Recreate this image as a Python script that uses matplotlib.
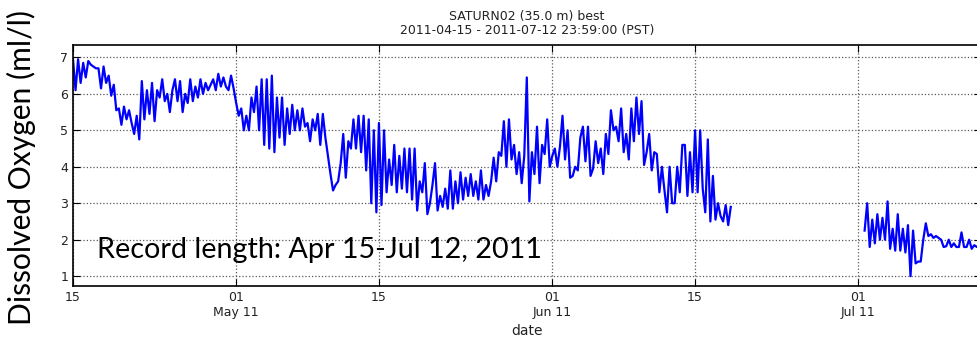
import numpy as np
import pandas as pd
import matplotlib
matplotlib.use("Agg")
import matplotlib.pyplot as plt
import matplotlib.dates as mdates
from matplotlib.ticker import FuncFormatter

# SATURN02 dissolved oxygen, 6-hourly readings
seg1_start = "2011-04-15 00:00"
seg1_vals = [
    6.95, 6.10, 6.95, 6.30,   # Apr 15
    6.85, 6.45, 6.90, 6.80,
    6.75, 6.70, 6.70, 6.15,
    6.75, 6.30, 6.50, 5.95,
    6.25, 5.55, 5.60, 5.15,
    5.65, 5.30, 5.55, 5.20,   # Apr 20
    4.90, 5.40, 4.75, 6.35,
    5.30, 6.10, 5.45, 6.30,
    5.25, 6.10, 5.90, 6.40,
    5.80, 6.00, 5.50, 6.10,
    6.40, 5.80, 6.35, 5.50,   # Apr 25
    6.00, 5.75, 6.40, 5.80,
    6.20, 5.90, 6.40, 6.00,
    6.30, 6.10, 6.25, 6.40,
    6.10, 6.55, 6.20, 6.45,
    6.20, 6.10, 6.50, 6.15,   # Apr 30
    5.75, 5.40, 5.60, 5.00,   # May 01
    5.40, 5.00, 5.90, 5.50,
    6.20, 5.00, 6.40, 4.60,
    6.40, 4.50, 6.50, 4.40,
    5.90, 4.80, 5.90, 4.60,   # May 05
    5.60, 4.90, 5.70, 5.00,
    5.55, 5.00, 5.60, 5.10,
    5.20, 4.70, 5.30, 5.00,
    5.45, 4.60, 5.45, 4.80,
    4.30, 3.80, 3.35, 3.50,   # May 10
    3.60, 4.10, 4.90, 3.70,
    4.70, 4.50, 5.30, 4.50,
    5.40, 4.40, 5.40, 3.90,
    5.30, 3.00, 5.00, 2.75,
    5.20, 2.95, 5.00, 3.30,   # May 15
    4.20, 3.50, 4.60, 3.30,
    4.30, 3.40, 4.50, 3.30,
    4.50, 3.10, 4.50, 2.80,
    3.60, 3.30, 4.10, 2.70,
    3.00, 3.50, 4.10, 2.80,   # May 20
    3.20, 2.90, 3.40, 2.85,
    3.90, 2.85, 3.60, 3.00,
    3.85, 3.10, 3.70, 3.20,
    3.80, 3.20, 3.60, 3.10,
    3.90, 3.10, 3.50, 3.20,   # May 25
    3.60, 4.25, 3.60, 4.40,
    4.30, 5.25, 4.00, 5.30,
    4.20, 4.60, 3.80, 4.40,
    3.55, 4.30, 6.45, 3.05,
    4.40, 3.80, 5.10, 3.55,   # May 30
    4.60, 4.35, 5.30, 4.00,
    4.30, 4.50, 4.00, 4.55,   # Jun 01
    5.40, 4.20, 5.00, 3.70,
    3.75, 4.00, 3.90, 4.80,
    5.10, 4.15, 5.10, 3.75,
    3.95, 4.70, 4.10, 4.50,   # Jun 05
    3.80, 4.90, 4.35, 5.55,
    5.00, 5.10, 4.70, 5.60,
    4.40, 4.90, 4.20, 5.60,
    4.70, 5.90, 4.90, 5.80,
    4.05, 4.40, 4.90, 3.90,   # Jun 10
    4.40, 4.35, 3.30, 4.00,
    3.35, 2.75, 4.00, 3.00,
    3.00, 4.00, 3.30, 4.60,
    4.60, 3.20, 4.40, 3.30,
    5.00, 3.30, 5.00, 3.40,   # Jun 15
    2.75, 4.75, 2.50, 3.75,
    2.55, 3.00, 2.65, 2.50,
    2.95, 2.40, 2.90,
]

seg2_start = "2011-07-01 15:00"
seg2_vals = [
    2.25, 3.00, 1.80, 2.55, 1.90, 2.70, 2.00, 2.60,
    2.00, 3.05, 1.75, 2.30, 1.70, 2.70, 1.70, 2.30,
    1.65, 2.40, 1.00, 2.25, 1.35, 1.40, 1.40, 2.00,
    2.45, 2.10, 2.15, 2.05, 2.10, 2.05, 2.00, 1.80,
    1.82, 2.00, 1.80, 1.90, 1.80, 1.80, 2.20, 1.80,
    1.80, 2.00, 1.75, 1.85, 1.80, 1.85,
]

t1 = pd.date_range(seg1_start, periods=len(seg1_vals), freq="6h")
t2 = pd.date_range(seg2_start, periods=len(seg2_vals), freq="6h")

fig = plt.figure(figsize=(9.77, 3.44), dpi=100)
ax = fig.add_axes([0.0747, 0.1686, 0.929, 0.7006])

ax.plot(t1, seg1_vals, color="#0000ff", linewidth=1.6)
ax.plot(t2, seg2_vals, color="#0000ff", linewidth=1.6)

ax.set_xlim(pd.Timestamp("2011-04-15"), pd.Timestamp("2011-07-12 23:59"))
ax.set_ylim(0.73, 7.34)
ax.set_yticks([1, 2, 3, 4, 5, 6, 7])


def day_fmt(x, pos):
    d = mdates.num2date(x)
    if d.day == 1:
        return d.strftime("%d\n%b %y")
    return d.strftime("%d")


ax.xaxis.set_major_locator(mdates.DayLocator(bymonthday=[1, 15]))
ax.xaxis.set_major_formatter(FuncFormatter(day_fmt))
ax.tick_params(direction="in", top=True, right=True, length=5, labelsize=9,
               labelcolor="#222222")
for s in ax.spines.values():
    s.set_linewidth(1.2)
ax.grid(True, linestyle=":", color="0.35", linewidth=0.9)

ax.set_title("SATURN02 (35.0 m) best\n2011-04-15 - 2011-07-12 23:59:00 (PST)",
             fontsize=9, color="#222222", pad=8, linespacing=1.1)
ax.set_xlabel("date", fontsize=10, color="#222222", labelpad=4)

ax.text(0.026, 0.15, "Record length: Apr 15-Jul 12, 2011", transform=ax.transAxes,
        fontsize=20.7, family="Lato", va="center", ha="left")
fig.text(0.022, 0.514, "Dissolved Oxygen (ml/l)", rotation=90, fontsize=21.6,
         family="Lato", va="center", ha="center")

fig.savefig("out.png", dpi=100)
